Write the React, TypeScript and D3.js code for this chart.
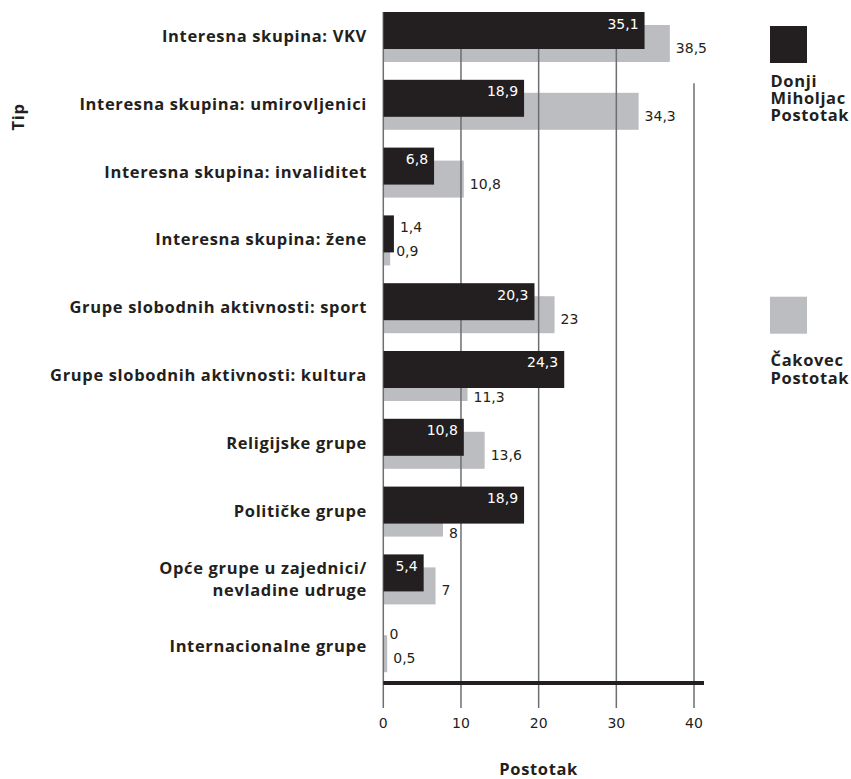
import React from "react";
import * as d3 from "d3";

const categories = [
  "Interesna skupina: VKV",
  "Interesna skupina: umirovljenici",
  "Interesna skupina: invaliditet",
  "Interesna skupina: žene",
  "Grupe slobodnih aktivnosti: sport",
  "Grupe slobodnih aktivnosti: kultura",
  "Religijske grupe",
  "Političke grupe",
  "Opće grupe u zajednici/ nevladine udruge",
  "Internacionalne grupe",
];
const donjiMiholjac = [35.1, 18.9, 6.8, 1.4, 20.3, 24.3, 10.8, 18.9, 5.4, 0];
const cakovec = [38.5, 34.3, 10.8, 0.9, 23, 11.3, 13.6, 8, 7, 0.5];
const xTicks = [0, 10, 20, 30, 40];
const legendDonji = ["Donji", "Miholjac", "Postotak"];
const legendCakovec = ["Čakovec", "Postotak"];
const xTitle = "Postotak";
const yTitle = "Tip";

const BLACK = "#231f20";
const GRAY = "#bcbdc0";
const GRID = "#6d6e71";
const LABEL_FONT = "'Open Sans', 'Noto Sans', sans-serif";
const NUM_FONT = "'DejaVu Sans', sans-serif";
const LS = 0.65;

const fmt = (v: number) => String(v).replace(".", ",");

export default function App() {
  const xAxis = d3.scaleLinear().domain([0, 40]).range([383.3, 694]);
  const xBar = d3.scaleLinear().domain([0, 40]).range([383.5, 681]);
  const y = d3
    .scaleBand<string>()
    .domain(categories)
    .range([12, 672.2])
    .paddingInner(0.2625)
    .paddingOuter(0);
  const barH = 37;
  const grayOff = 13;
  const axisY = 683;
  const tickEnd = 708;

  const labelProps = {
    fontFamily: LABEL_FONT,
    fontWeight: 700,
    fontSize: 16.5,
    letterSpacing: LS,
    fill: BLACK,
  };

  return (
    <svg
      width={851}
      height={779}
      style={{ position: "absolute", left: 0, top: 0, background: "#fff" }}
    >
      {/* gray bars */}
      {categories.map((c, i) => (
        <rect
          key={"g" + i}
          x={xBar(0)}
          y={(y(c) as number) + grayOff}
          width={xBar(cakovec[i]) - xBar(0)}
          height={barH}
          fill={GRAY}
        />
      ))}
      {/* gridlines */}
      {xTicks.map((t) => (
        <line
          key={"grid" + t}
          x1={xAxis(t)}
          x2={xAxis(t)}
          y1={t === 40 ? (y(categories[1]) as number) + 3.5 : (y(categories[0]) as number)}
          y2={tickEnd}
          stroke={GRID}
          strokeWidth={1.5}
        />
      ))}
      {/* black bars */}
      {categories.map((c, i) => (
        <rect
          key={"b" + i}
          x={xBar(0)}
          y={y(c) as number}
          width={xBar(donjiMiholjac[i]) - xBar(0)}
          height={barH}
          fill={BLACK}
        />
      ))}
      {/* axis baseline */}
      <line
        x1={xAxis(0)}
        x2={704}
        y1={axisY}
        y2={axisY}
        stroke={BLACK}
        strokeWidth={4}
      />
      {/* tick labels */}
      {xTicks.map((t) => (
        <text
          key={"tl" + t}
          x={xAxis(t)}
          y={728}
          textAnchor="middle"
          fontFamily={NUM_FONT}
          fontSize={14}
          fill={BLACK}
        >
          {t}
        </text>
      ))}
      {/* black value labels */}
      {categories.map((c, i) => {
        const v = donjiMiholjac[i];
        const top = y(c) as number;
        const inside = v >= 3;
        return (
          <text
            key={"bl" + i}
            x={inside ? xBar(v) - 6 : xBar(v) + 6}
            y={top + 16.5}
            textAnchor={inside ? "end" : "start"}
            fontFamily={NUM_FONT}
            fontSize={14}
            fill={inside ? "#ffffff" : BLACK}
          >
            {fmt(v)}
          </text>
        );
      })}
      {/* gray value labels */}
      {categories.map((c, i) => {
        const v = cakovec[i];
        const top = y(c) as number;
        const lx = xBar(v) + 6;
        const under = lx < xBar(donjiMiholjac[i]);
        const ly = under ? top + barH + 14 : top + grayOff + 28;
        return (
          <text
            key={"gl" + i}
            x={lx}
            y={ly}
            textAnchor="start"
            fontFamily={NUM_FONT}
            fontSize={14}
            fill={BLACK}
          >
            {fmt(v)}
          </text>
        );
      })}
      {/* category labels */}
      {categories.map((c) => {
        const cy = (y(c) as number) + y.bandwidth() / 2;
        const parts = c.includes("/ ") ? [c.split("/ ")[0] + "/", c.split("/ ")[1]] : [c];
        return (
          <text key={"cl" + c} x={367} textAnchor="end" {...labelProps}>
            {parts.length === 1 ? (
              <tspan x={367} y={cy + 5}>
                {c}
              </tspan>
            ) : (
              parts.map((p, k) => (
                <tspan key={k} x={367} y={cy - 5 + k * 22}>
                  {p}
                </tspan>
              ))
            )}
          </text>
        );
      })}
      {/* axis titles */}
      <text
        x={(xAxis(0) + xAxis(40)) / 2}
        y={775}
        textAnchor="middle"
        {...labelProps}
      >
        {xTitle}
      </text>
      <text
        transform="translate(24,117) rotate(-90)"
        textAnchor="middle"
        {...labelProps}
      >
        {yTitle}
      </text>
      {/* legend */}
      <rect x={770} y={26} width={37} height={37} fill={BLACK} />
      <text {...labelProps}>
        {legendDonji.map((t, k) => (
          <tspan key={"ld" + k} x={770.5} y={86.7 + k * 17}>
            {t}
          </tspan>
        ))}
      </text>
      <rect x={770} y={296.7} width={37} height={37} fill={GRAY} />
      <text {...labelProps}>
        {legendCakovec.map((t, k) => (
          <tspan key={"lc" + k} x={770.5} y={366 + k * 17.5}>
            {t}
          </tspan>
        ))}
      </text>
    </svg>
  );
}
